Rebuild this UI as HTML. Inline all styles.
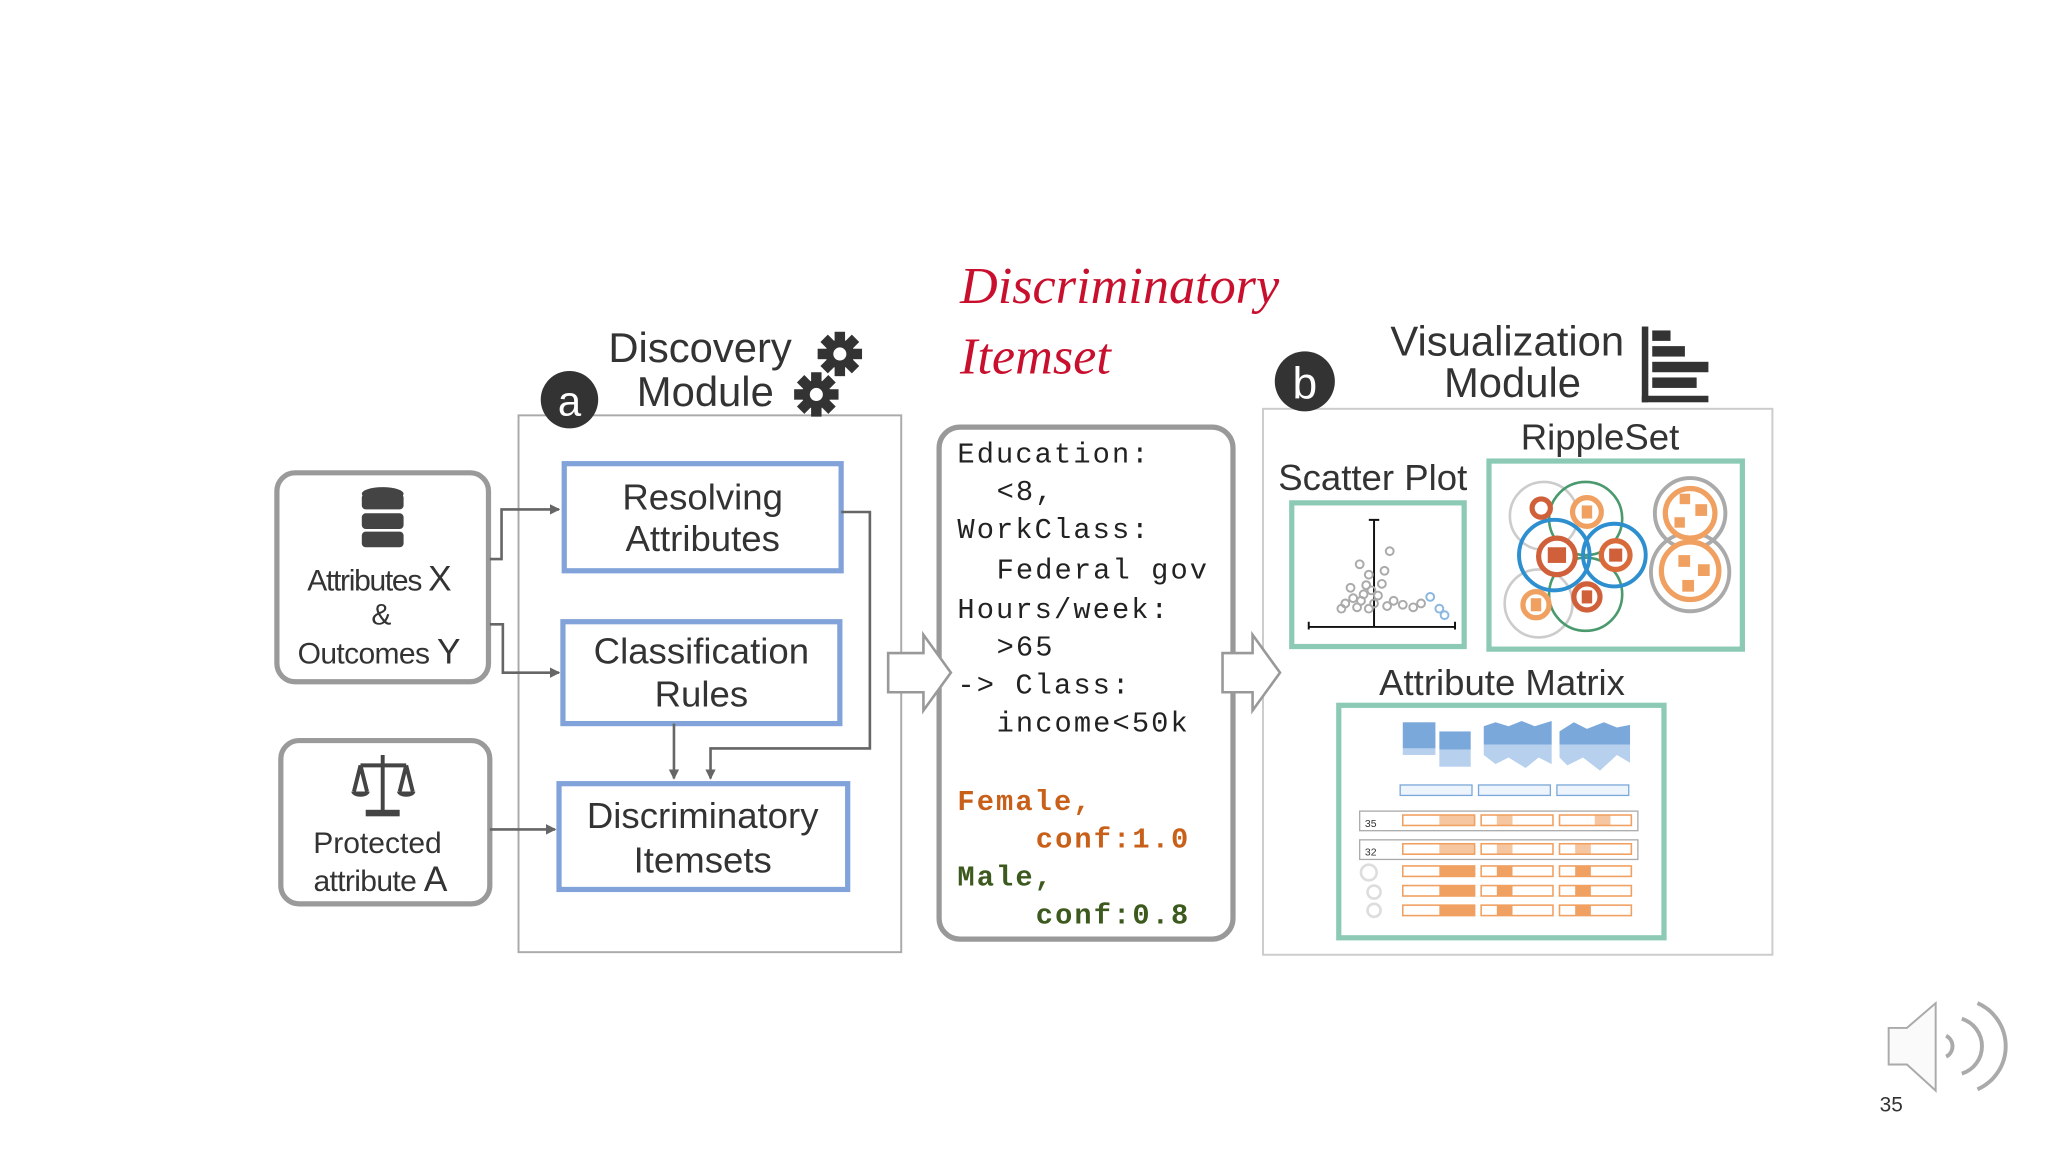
<!DOCTYPE html>
<html><head><style>
html,body{margin:0;padding:0;background:#fff;}
svg{display:block;}
text{font-family:"Liberation Sans",sans-serif;fill:#333;}
.m{font-family:"Liberation Mono",monospace;font-size:22px;fill:#222;letter-spacing:1.6px;}
.h{font-size:32px;text-anchor:middle;}
.b{font-size:28px;text-anchor:middle;fill:#333;}
</style></head><body>
<svg width="2048" height="1152" viewBox="0 0 1568 882" xmlns="http://www.w3.org/2000/svg">
<defs>
<marker id="ar" markerWidth="8" markerHeight="8" refX="7" refY="4" orient="auto" markerUnits="userSpaceOnUse"><path d="M0,0 L8,4 L0,8 z" fill="#666"/></marker>
<g id="gear"><circle r="11" fill="#333"/><g fill="#333"><rect x="-4" y="-17" width="8" height="34"/><rect x="-17" y="-4" width="34" height="8"/><rect x="-4" y="-17" width="8" height="34" transform="rotate(45)"/><rect x="-4" y="-17" width="8" height="34" transform="rotate(-45)"/></g><circle r="5" fill="#fff"/></g>
</defs>

<!-- Discovery module -->
<rect x="397" y="318" width="293" height="411" fill="#fff" stroke="#aaa" stroke-width="1.5"/>
<circle cx="436" cy="306" r="22" fill="#333"/>
<text x="436" y="318" style="font-size:32px;fill:#fff;text-anchor:middle">a</text>
<text x="536" y="277" class="h">Discovery</text>
<text x="540" y="311" class="h">Module</text>
<use href="#gear" x="643" y="271"/>
<use href="#gear" x="625" y="302"/>

<rect x="212" y="362" width="162" height="160" rx="14" fill="#fff" stroke="#9a9a9a" stroke-width="4"/>
<g fill="#444"><ellipse cx="293" cy="378" rx="16" ry="5"/><rect x="277" y="378" width="32" height="12" rx="3"/><rect x="277" y="393" width="32" height="12" rx="3"/><rect x="277" y="407" width="32" height="12" rx="3"/></g>
<text x="290" y="452" style="font-size:23px;text-anchor:middle;letter-spacing:-1px">Attributes <tspan style="font-size:27px">X</tspan></text>
<text x="292" y="478" style="font-size:23px;text-anchor:middle">&amp;</text>
<text x="290" y="508" style="font-size:23px;text-anchor:middle;letter-spacing:-0.5px">Outcomes <tspan style="font-size:27px">Y</tspan></text>

<rect x="215" y="567" width="160" height="125" rx="14" fill="#fff" stroke="#9a9a9a" stroke-width="4"/>
<g stroke="#444" stroke-width="3" fill="none"><line x1="293" y1="578" x2="293" y2="622"/><line x1="276" y1="586" x2="311" y2="586"/><path d="M276,586 L271,606 M276,586 L281,606 M311,586 L306,606 M311,586 L316,606"/></g>
<g fill="#444"><path d="M269,606 h14 a7,4 0 0 1 -14,0z"/><path d="M304,606 h14 a7,4 0 0 1 -14,0z"/><rect x="280" y="620" width="26" height="5"/></g>
<text x="289" y="653" style="font-size:23px;text-anchor:middle">Protected</text>
<text x="291" y="682" style="font-size:23px;text-anchor:middle;letter-spacing:-0.5px">attribute <tspan style="font-size:27px">A</tspan></text>

<rect x="432" y="355" width="212" height="82" fill="#fff" stroke="#82a3d9" stroke-width="4"/>
<text x="538" y="390" class="b">Resolving</text>
<text x="538" y="422" class="b">Attributes</text>
<rect x="431" y="476" width="212" height="78" fill="#fff" stroke="#82a3d9" stroke-width="4"/>
<text x="537" y="508" class="b">Classification</text>
<text x="537" y="541" class="b">Rules</text>
<rect x="428" y="600" width="221" height="81" fill="#fff" stroke="#82a3d9" stroke-width="4"/>
<text x="538" y="634" class="b">Discriminatory</text>
<text x="538" y="668" class="b">Itemsets</text>

<g stroke="#666" stroke-width="2" fill="none" marker-end="url(#ar)">
<path d="M375,428 H384 V390 H428"/>
<path d="M375,478 H385 V515 H428"/>
<path d="M375,635 H425"/>
<path d="M644,392 H666 V573 H544 V596"/>
<path d="M516,554 V596"/>
</g>

<!-- Itemset box -->
<text x="735" y="232" style="font-family:'Liberation Serif',serif;font-style:italic;font-size:40px;fill:#c8102e;">Discriminatory</text>
<text x="735" y="286" style="font-family:'Liberation Serif',serif;font-style:italic;font-size:40px;fill:#c8102e;">Itemset</text>
<rect x="719" y="327" width="225" height="392" rx="16" fill="#fff" stroke="#999" stroke-width="4"/>
<text class="m" x="733" y="354">Education:</text>
<text class="m" x="763" y="383">&lt;8,</text>
<text class="m" x="733" y="412">WorkClass:</text>
<text class="m" x="763" y="443">Federal gov</text>
<text class="m" x="733" y="473">Hours/week:</text>
<text class="m" x="763" y="502">&gt;65</text>
<text class="m" x="733" y="531">-&gt; Class:</text>
<text class="m" x="763" y="560">income&lt;50k</text>
<text class="m" x="733" y="620" style="font-weight:bold;fill:#c8601a">Female,</text>
<text class="m" x="793" y="649" style="font-weight:bold;fill:#c8601a">conf:1.0</text>
<text class="m" x="733" y="678" style="font-weight:bold;fill:#3d5a1e">Male,</text>
<text class="m" x="793" y="707" style="font-weight:bold;fill:#3d5a1e">conf:0.8</text>

<!-- Visualization module -->
<rect x="967" y="313" width="390" height="418" fill="#fff" stroke="#ccc" stroke-width="1.5"/>

<!-- Big arrows (on top) -->
<path d="M680,500 H707 V486 L728,515 L707,544 V530 H680 Z" fill="#fff" stroke="#999" stroke-width="2"/>
<path d="M936,500 H959 V486 L980,515 L959,544 V530 H936 Z" fill="#fff" stroke="#999" stroke-width="2"/>

<circle cx="999" cy="292" r="23" fill="#333"/>
<text x="999" y="305" style="font-size:34px;fill:#fff;text-anchor:middle">b</text>
<text x="1154" y="272" class="h">Visualization</text>
<text x="1158" y="304" class="h">Module</text>
<g fill="#333"><rect x="1257" y="250" width="5" height="58"/><rect x="1257" y="303" width="51" height="5"/><rect x="1265" y="253" width="14" height="8"/><rect x="1265" y="265" width="25" height="8"/><rect x="1265" y="277" width="43" height="8"/><rect x="1265" y="289" width="34" height="8"/></g>

<text x="1225" y="344" class="b">RippleSet</text>
<rect x="1140" y="353" width="194" height="144" fill="#fff" stroke="#8ccab6" stroke-width="4"/>
<g fill="none" stroke-width="2">
<circle cx="1182" cy="395" r="26" stroke="#ccc"/><circle cx="1178" cy="462" r="26" stroke="#ccc"/>
<circle cx="1214" cy="397" r="28" stroke="#4a9a6e"/><circle cx="1214" cy="455" r="28" stroke="#4a9a6e"/>
<circle cx="1190" cy="425" r="27" stroke="#2d8fcf" stroke-width="3"/><circle cx="1236" cy="425" r="24" stroke="#2d8fcf" stroke-width="3"/>
<circle cx="1294" cy="393" r="27" stroke="#aaa" stroke-width="3"/><circle cx="1294" cy="438" r="30" stroke="#aaa" stroke-width="3"/>
</g>
<g fill="#fff" stroke-width="4"><circle cx="1215" cy="392" r="11" stroke="#f0a060"/><circle cx="1176" cy="463" r="10" stroke="#f0a060"/><circle cx="1294" cy="393" r="19" stroke="#f0a060"/><circle cx="1294" cy="437" r="22" stroke="#f0a060"/><circle cx="1237" cy="425" r="11" stroke="#d96a3a"/>
<circle cx="1192" cy="426" r="14" stroke="#d0603a"/><circle cx="1215" cy="457" r="10" stroke="#d0603a"/><circle cx="1180" cy="389" r="7" stroke="#d0603a"/></g>
<g fill="#f0a060"><rect x="1286" y="378" width="8" height="8"/><rect x="1298" y="386" width="9" height="9"/><rect x="1282" y="396" width="8" height="8"/><rect x="1285" y="425" width="9" height="9"/><rect x="1300" y="432" width="9" height="9"/><rect x="1288" y="444" width="9" height="9"/><rect x="1211" y="387" width="8" height="10"/><rect x="1172" y="458" width="8" height="10"/></g>
<g fill="#d0603a"><rect x="1185" y="419" width="14" height="12"/><rect x="1232" y="420" width="10" height="10"/><rect x="1211" y="452" width="8" height="10"/></g>

<text x="1051" y="375" class="b">Scatter Plot</text>
<rect x="989" y="385" width="132" height="110" fill="#fff" stroke="#8ccab6" stroke-width="4"/>
<g stroke="#111" stroke-width="1.5" fill="none"><path d="M1052,398 V480 M1002,480 H1114 M1002,476 V482 M1114,476 V482 M1048,398 h8"/></g>
<g stroke="#aaa" stroke-width="1.5" fill="none">
<circle cx="1041" cy="432" r="3"/><circle cx="1064" cy="422" r="3"/><circle cx="1048" cy="440" r="3"/><circle cx="1034" cy="450" r="3"/><circle cx="1058" cy="447" r="3"/><circle cx="1044" cy="455" r="3"/><circle cx="1030" cy="462" r="3"/><circle cx="1067" cy="460" r="3"/><circle cx="1052" cy="462" r="3"/><circle cx="1039" cy="465" r="3"/><circle cx="1074" cy="463" r="3"/><circle cx="1082" cy="465" r="3"/><circle cx="1027" cy="466" r="3"/><circle cx="1060" cy="437" r="3"/><circle cx="1046" cy="448" r="3"/><circle cx="1088" cy="462" r="3"/><circle cx="1050" cy="452" r="3"/><circle cx="1055" cy="456" r="3"/><circle cx="1042" cy="460" r="3"/><circle cx="1036" cy="458" r="3"/><circle cx="1062" cy="464" r="3"/><circle cx="1048" cy="466" r="3"/>
</g>
<g stroke="#8ab8e0" stroke-width="1.5" fill="none"><circle cx="1095" cy="457" r="3"/><circle cx="1102" cy="466" r="3"/><circle cx="1106" cy="471" r="3"/></g>

<text x="1150" y="532" class="b">Attribute Matrix</text>
<rect x="1025" y="540" width="249" height="178" fill="#fff" stroke="#8ccab6" stroke-width="4"/>
<g fill="#7aa8da"><rect x="1074" y="553" width="25" height="20"/><rect x="1102" y="560" width="24" height="14"/><path d="M1136,570 L1136,556 1145,553 1155,556 1165,552 1175,556 1188,552 L1188,570Z"/><path d="M1194,570 L1194,560 1205,553 1215,558 1228,553 1238,557 1248,555 L1248,570Z"/></g>
<g fill="#b6d0ee"><rect x="1074" y="573" width="25" height="5"/><rect x="1102" y="574" width="24" height="13"/><path d="M1136,570 H1188 V585 L1178,580 1168,588 1155,580 1145,585 1136,578Z"/><path d="M1194,570 H1248 V584 L1238,578 1225,590 1212,580 1200,586 1194,580Z"/></g>
<g fill="#eef4fb" stroke="#7aa8da" stroke-width="1"><rect x="1072" y="601" width="55" height="8"/><rect x="1132" y="601" width="55" height="8"/><rect x="1192" y="601" width="55" height="8"/></g>
<rect x="1041" y="621" width="213" height="15" fill="none" stroke="#aaa"/>
<rect x="1041" y="643" width="213" height="15" fill="none" stroke="#aaa"/>
<text x="1045" y="633" style="font-size:8px">35</text><text x="1045" y="655" style="font-size:8px">32</text>
<g fill="#fff" stroke="#f0a060" stroke-width="1.2">
<rect x="1074" y="624" width="55" height="8"/><rect x="1134" y="624" width="55" height="8"/><rect x="1194" y="624" width="55" height="8"/>
<rect x="1074" y="646" width="55" height="8"/><rect x="1134" y="646" width="55" height="8"/><rect x="1194" y="646" width="55" height="8"/>
<rect x="1074" y="663" width="55" height="8"/><rect x="1134" y="663" width="55" height="8"/><rect x="1194" y="663" width="55" height="8"/>
<rect x="1074" y="678" width="55" height="8"/><rect x="1134" y="678" width="55" height="8"/><rect x="1194" y="678" width="55" height="8"/>
<rect x="1074" y="693" width="55" height="8"/><rect x="1134" y="693" width="55" height="8"/><rect x="1194" y="693" width="55" height="8"/>
</g>
<g fill="#f0a060"><rect x="1102" y="624" width="27" height="8" opacity=".6"/><rect x="1146" y="624" width="12" height="8" opacity=".6"/><rect x="1221" y="624" width="12" height="8" opacity=".6"/>
<rect x="1102" y="646" width="27" height="8" opacity=".6"/><rect x="1146" y="646" width="12" height="8" opacity=".6"/><rect x="1206" y="646" width="12" height="8" opacity=".6"/>
<rect x="1102" y="663" width="27" height="8"/><rect x="1146" y="663" width="12" height="8"/><rect x="1206" y="663" width="12" height="8"/>
<rect x="1102" y="678" width="27" height="8"/><rect x="1146" y="678" width="12" height="8"/><rect x="1206" y="678" width="12" height="8"/>
<rect x="1102" y="693" width="27" height="8"/><rect x="1146" y="693" width="12" height="8"/><rect x="1206" y="693" width="12" height="8"/></g>
<g fill="none" stroke="#ddd" stroke-width="2"><circle cx="1048" cy="668" r="6"/><circle cx="1052" cy="683" r="5"/><circle cx="1052" cy="697" r="5"/></g>

<!-- speaker -->
<path d="M1446,787 H1460 L1482,768 V835 L1460,815 H1446 Z" fill="#fafafa" stroke="#aaa" stroke-width="1.5"/>
<g fill="none" stroke="#aaa" stroke-width="3"><path d="M1490,793 a9,9 0 0 1 0,16"/><path d="M1502,780 a22,22 0 0 1 0,42"/><path d="M1514,768 a36,36 0 0 1 0,66"/></g>
<text x="1448" y="851" style="font-size:16px;text-anchor:middle;fill:#333">35</text>
</svg>
</body></html>
